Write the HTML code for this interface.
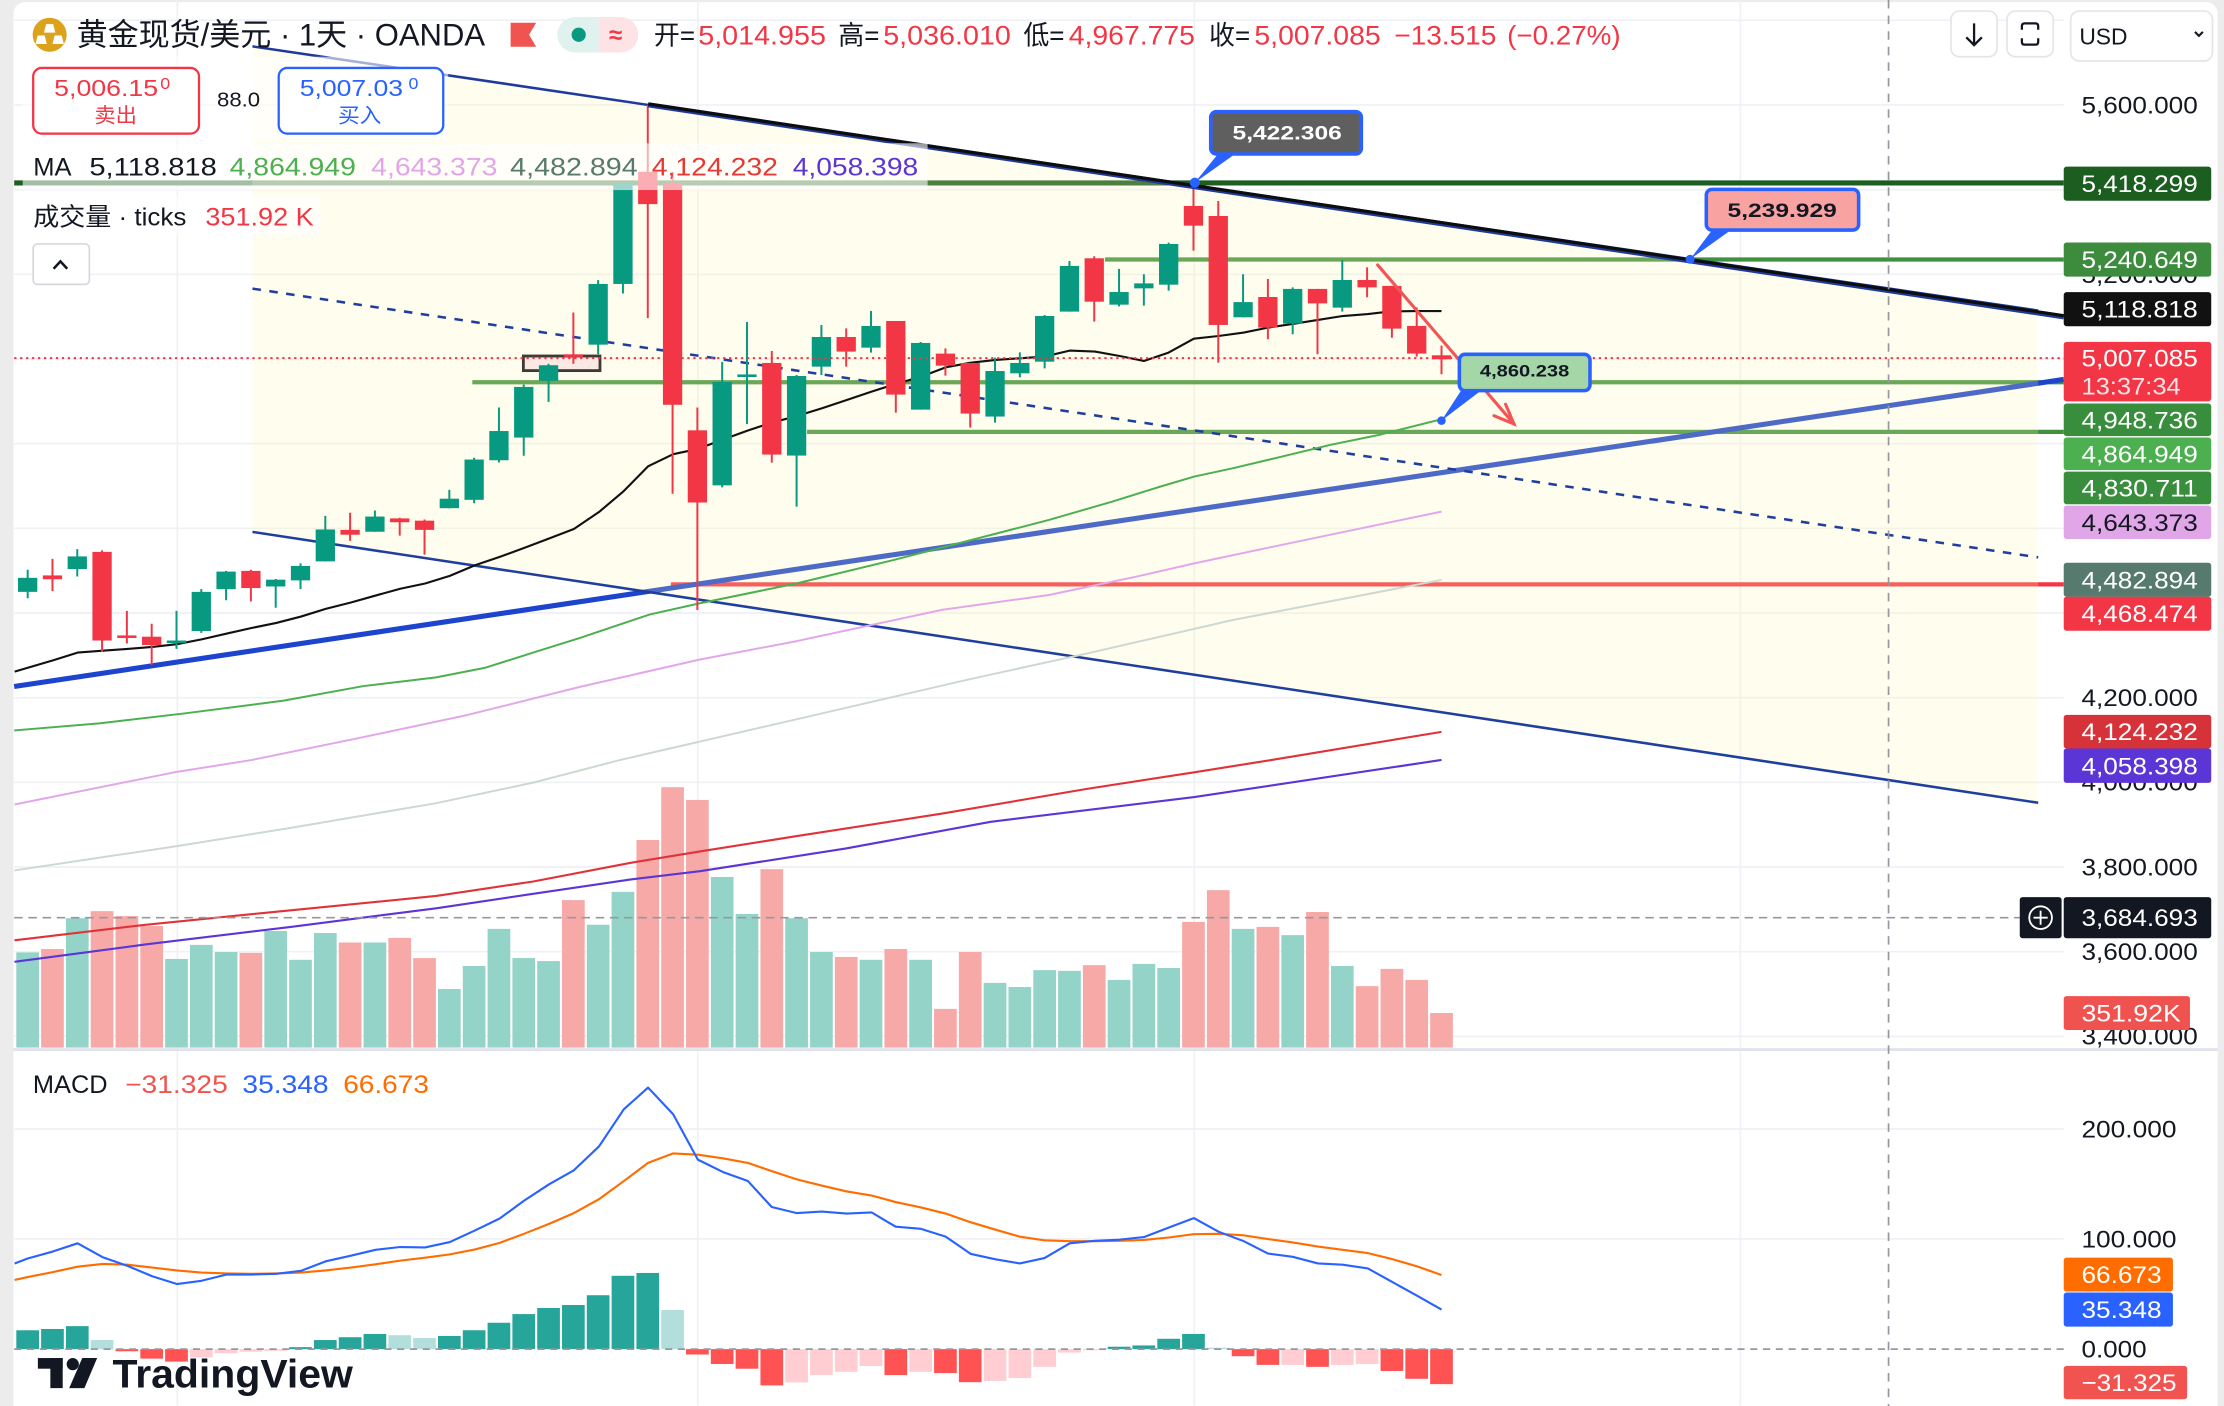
<!DOCTYPE html>
<html><head><meta charset="utf-8">
<style>
html,body{margin:0;padding:0;background:#ececec;}
body{width:2224px;height:1406px;overflow:hidden;}
svg{display:block;}
text{font-family:"Liberation Sans","Noto Sans CJK SC",sans-serif;}
</style></head>
<body>
<svg width="2224" height="1406" viewBox="0 0 1568 991.3" preserveAspectRatio="none" xmlns="http://www.w3.org/2000/svg">
<rect x="0" y="0" width="1568" height="991.3" fill="#ececec"/>
<rect x="9.5" y="1.5" width="1554" height="1000" rx="8" fill="#ffffff"/>

<!-- grid -->
<g stroke="#f0f1f4" stroke-width="1.2">
<line x1="10" x2="1455" y1="14.3" y2="14.3"/>
<line x1="10" x2="1455" y1="74" y2="74"/>
<line x1="10" x2="1455" y1="133.7" y2="133.7"/>
<line x1="10" x2="1455" y1="193.4" y2="193.4"/>
<line x1="10" x2="1455" y1="253" y2="253"/>
<line x1="10" x2="1455" y1="312.8" y2="312.8"/>
<line x1="10" x2="1455" y1="372.5" y2="372.5"/>
<line x1="10" x2="1455" y1="432.2" y2="432.2"/>
<line x1="10" x2="1455" y1="491.9" y2="491.9"/>
<line x1="10" x2="1455" y1="551.6" y2="551.6"/>
<line x1="10" x2="1455" y1="611.3" y2="611.3"/>
<line x1="10" x2="1455" y1="671" y2="671"/>
<line x1="10" x2="1455" y1="730.7" y2="730.7"/>
<line x1="10" x2="1455" y1="796" y2="796"/>
<line x1="10" x2="1455" y1="873.5" y2="873.5"/>
<line x1="125" x2="125" y1="0" y2="991"/>
<line x1="492" x2="492" y1="0" y2="991"/>
<line x1="842" x2="842" y1="0" y2="991"/>
<line x1="1227" x2="1227" y1="0" y2="991"/>
</g>

<!-- volume -->
<g fill="#93d3c8">
<rect x="11.5" y="671.5" width="16" height="67.1"/>
<rect x="46.48" y="647.4" width="16" height="91.2"/>
<rect x="116.43" y="676.1" width="16" height="62.5"/>
<rect x="133.92" y="666.2" width="16" height="72.4"/>
<rect x="151.4" y="671.2" width="16" height="67.4"/>
<rect x="186.38" y="656.4" width="16" height="82.2"/>
<rect x="203.87" y="676.7" width="16" height="61.9"/>
<rect x="221.36" y="657.8" width="16" height="80.8"/>
<rect x="256.33" y="664.5" width="16" height="74.1"/>
<rect x="308.8" y="697.3" width="16" height="41.3"/>
<rect x="326.28" y="681.1" width="16" height="57.5"/>
<rect x="343.77" y="654.9" width="16" height="83.7"/>
<rect x="361.26" y="675.5" width="16" height="63.1"/>
<rect x="378.75" y="677.6" width="16" height="61"/>
<rect x="413.72" y="652" width="16" height="86.6"/>
<rect x="431.21" y="628.8" width="16" height="109.8"/>
<rect x="501.16" y="618.3" width="16" height="120.3"/>
<rect x="518.65" y="644.4" width="16" height="94.2"/>
<rect x="553.63" y="647.4" width="16" height="91.2"/>
<rect x="571.12" y="671.2" width="16" height="67.4"/>
<rect x="606.09" y="676.7" width="16" height="61.9"/>
<rect x="641.07" y="676.7" width="16" height="61.9"/>
<rect x="693.53" y="693" width="16" height="45.6"/>
<rect x="711.02" y="695.9" width="16" height="42.7"/>
<rect x="728.51" y="684" width="16" height="54.6"/>
<rect x="746" y="684.5" width="16" height="54.1"/>
<rect x="780.97" y="690.9" width="16" height="47.7"/>
<rect x="798.46" y="679.6" width="16" height="59"/>
<rect x="815.95" y="682.5" width="16" height="56.1"/>
<rect x="868.41" y="654.9" width="16" height="83.7"/>
<rect x="903.39" y="659.3" width="16" height="79.3"/>
<rect x="938.36" y="681.1" width="16" height="57.5"/>
</g>
<g fill="#f6a9a7">
<rect x="28.99" y="669.1" width="16" height="69.5"/>
<rect x="63.96" y="642.4" width="16" height="96.2"/>
<rect x="81.45" y="645.9" width="16" height="92.7"/>
<rect x="98.94" y="652.9" width="16" height="85.7"/>
<rect x="168.89" y="671.8" width="16" height="66.8"/>
<rect x="238.84" y="664.5" width="16" height="74.1"/>
<rect x="273.82" y="661.3" width="16" height="77.3"/>
<rect x="291.31" y="675.5" width="16" height="63.1"/>
<rect x="396.24" y="634.6" width="16" height="104"/>
<rect x="448.7" y="592.2" width="16" height="146.4"/>
<rect x="466.19" y="555" width="16" height="183.6"/>
<rect x="483.68" y="564" width="16" height="174.6"/>
<rect x="536.14" y="612.8" width="16" height="125.8"/>
<rect x="588.6" y="674.7" width="16" height="63.9"/>
<rect x="623.58" y="669.1" width="16" height="69.5"/>
<rect x="658.56" y="711.3" width="16" height="27.3"/>
<rect x="676.04" y="671.2" width="16" height="67.4"/>
<rect x="763.48" y="680.5" width="16" height="58.1"/>
<rect x="833.44" y="650" width="16" height="88.6"/>
<rect x="850.92" y="627.6" width="16" height="111"/>
<rect x="885.9" y="653.5" width="16" height="85.1"/>
<rect x="920.88" y="643" width="16" height="95.6"/>
<rect x="955.85" y="695.3" width="16" height="43.3"/>
<rect x="973.34" y="683.1" width="16" height="55.5"/>
<rect x="990.83" y="690.9" width="16" height="47.7"/>
<rect x="1008.32" y="714.2" width="16" height="24.4"/>
</g>

<!-- horizontal levels & rising trendline (under channel fill) -->
<line x1="10" x2="1455" y1="129" y2="129" stroke="#1b5e20" stroke-width="3.6"/>
<line x1="779" x2="1455" y1="183" y2="183" stroke="#40913d" stroke-width="3"/>
<line x1="333" x2="1455" y1="269.5" y2="269.5" stroke="#40913d" stroke-width="3"/>
<line x1="569" x2="1455" y1="304.5" y2="304.5" stroke="#40913d" stroke-width="3"/>
<line x1="473" x2="1455" y1="412" y2="412" stroke="#f23645" stroke-width="3"/>
<line x1="10" y1="484" x2="1455" y2="267.5" stroke="#1c44cc" stroke-width="3.6"/>

<!-- channel fill -->
<polygon points="178,32.7 1437,219 1437,566 178,375" fill="#fff5b0" fill-opacity="0.22"/>

<!-- channel lines -->
<line x1="178" y1="32.7" x2="1437" y2="219" stroke="#1e3a9c" stroke-width="1.8"/>
<line x1="178" y1="375" x2="1437" y2="566" stroke="#1e3fa0" stroke-width="1.8"/>
<line x1="178" y1="203.5" x2="1437" y2="393" stroke="#1e3fa0" stroke-width="1.8" stroke-dasharray="6 6"/>

<!-- MAs -->
<g fill="none" stroke-linejoin="round">
<polyline stroke="#cdd8d1" stroke-width="1.4" points="10.2,613.7 123,596.8 205,583.7 307.5,566.3 375.9,551.8 437.4,535.8 560,507.5 681.4,479.4 766.9,460.6 869.4,437.1 1016.3,408.9"/>
<polyline stroke="#e2a7ea" stroke-width="1.4" points="10.2,567.2 123,544.5 177.7,535.8 250,521 330,504 410,484 493.5,465 561.8,452 664,430 739.5,419.5 801,406.6 842,397.2 903.5,384.2 1016.3,360.7"/>
<polyline stroke="#4caf50" stroke-width="1.4" points="10,515 70,510 130,503 200,494 256.3,483.7 307.5,477.6 341.7,470.9 375.9,460.1 410,449.4 457.9,433.3 493.5,425.3 561.8,411.3 630.2,394.8 698.5,377.2 739.5,366.6 784,353.7 818,343.1 842,336 869,330.2 903.5,322 937.7,313.7 971.9,306.7 1016.3,295.6"/>
<polyline stroke="#e03339" stroke-width="1.5" points="10.2,663 102.5,652 205,641.8 307.5,631.7 375.9,621.5 444.2,608.4 493.5,600.3 561.8,589.5 664.3,573.6 766.9,556.1 842,544.5 896.7,535.8 1016.3,516"/>
<polyline stroke="#5b35d5" stroke-width="1.5" points="10.2,678.1 102.5,665.9 205,653.5 307.5,640.4 375.9,630.2 444.2,620.1 493.5,614.2 596,598.3 698.5,579.4 842,562 1016.3,535.8"/>
<polyline stroke="#111111" stroke-width="1.5" points="10.3,473.5 37.6,465.5 54.7,460.1 72.4,458.8 89.9,457.5 107.3,456.1 124.7,454.2 142.1,450.8 159.9,446.7 177.7,442.7 194.8,439.2 212.2,434.7 229.6,429.3 247.4,424.8 264.8,419.9 282.2,415.1 299.7,411.4 317.1,406 334.9,398.5 352.3,392.6 369.4,386.4 387.1,379.7 404.6,373 422.3,361 439.8,346.2 456.9,328.8 474.6,320.2 492,316.5 509.6,310 527.3,303.5 544.1,298 561.8,293.3 579.3,287.9 597,282 614.5,276.1 631.5,270.7 649.3,265.6 666.7,259 684.5,255.7 701.9,253.8 719,252.6 736.4,251.4 754.2,247.2 772,247.9 789.4,251 806.5,254.5 823.9,248.6 841.7,238.8 859.1,236.9 876.9,234.5 894,231 911.4,228.4 929.2,225.6 946.6,222.8 964.4,221.4 981.1,219.5 998.9,219.3 1016.3,219.3"/>
</g>

<!-- drawing box -->
<rect x="369" y="251" width="54" height="10.3" fill="#fde9e4" stroke="#3f3a36" stroke-width="2"/>

<!-- candles green -->
<path stroke="#089981" stroke-width="1.4" fill="none" d="M19.5 401.7V421.8M54.48 387.2V406.5M124.43 430.7V457.5M141.92 415.4V446.2M159.4 402.5V423.2M194.38 408.2V428.5M211.87 397.2V415.4M229.36 363.7V395.8M264.33 359.9V374.9M316.8 345.4V358.3M334.28 322.7V354.8M351.77 287.3V326.1M369.26 271.2V321.3M386.75 256.5V283.3M421.72 197.5V249.8M439.21 129.2V206.9M509.16 255.1V343.6M526.65 227V299M561.63 264.4V357.2M579.12 229.1V264.4M614.09 219.3V248.6M649.07 241.1V288.8M701.53 252.1V298M719.02 248.4V266M736.51 222.1V259.7M754 184V219.7M788.97 189.6V216M806.46 193.4V215.5M823.95 171.1V204.9M876.41 193.4V223.7M911.39 202.6V235.7M946.36 183.3V219.7"/>
<g fill="#089981">
<rect x="12.7" y="407.4" width="13.6" height="9.9"/>
<rect x="47.68" y="392.3" width="13.6" height="8.9"/>
<rect x="117.63" y="451.6" width="13.6" height="1.8"/>
<rect x="135.12" y="417.3" width="13.6" height="27.6"/>
<rect x="152.6" y="403" width="13.6" height="12.4"/>
<rect x="187.58" y="408.7" width="13.6" height="4.8"/>
<rect x="205.07" y="399" width="13.6" height="10.2"/>
<rect x="222.56" y="373.3" width="13.6" height="22.5"/>
<rect x="257.53" y="364.2" width="13.6" height="10.7"/>
<rect x="310" y="351.6" width="13.6" height="6.7"/>
<rect x="327.48" y="324" width="13.6" height="28.4"/>
<rect x="344.97" y="303.9" width="13.6" height="20.6"/>
<rect x="362.46" y="272.8" width="13.6" height="35.7"/>
<rect x="379.95" y="257.5" width="13.6" height="11"/>
<rect x="414.92" y="200.2" width="13.6" height="42.8"/>
<rect x="432.41" y="129.2" width="13.6" height="71"/>
<rect x="502.36" y="269.3" width="13.6" height="72.9"/>
<rect x="519.85" y="264" width="13.6" height="1.8"/>
<rect x="554.83" y="265.1" width="13.6" height="56.1"/>
<rect x="572.32" y="237.6" width="13.6" height="20.9"/>
<rect x="607.29" y="229.8" width="13.6" height="15.3"/>
<rect x="642.27" y="241.8" width="13.6" height="47"/>
<rect x="694.73" y="261.6" width="13.6" height="32.1"/>
<rect x="712.22" y="255.9" width="13.6" height="7.3"/>
<rect x="729.71" y="222.8" width="13.6" height="32.2"/>
<rect x="747.2" y="187.5" width="13.6" height="32.2"/>
<rect x="782.17" y="205.9" width="13.6" height="8.9"/>
<rect x="799.66" y="199.8" width="13.6" height="3.5"/>
<rect x="817.15" y="172" width="13.6" height="28.7"/>
<rect x="869.61" y="213" width="13.6" height="10.7"/>
<rect x="904.59" y="203.7" width="13.6" height="24.5"/>
<rect x="939.56" y="197.4" width="13.6" height="19.5"/>
</g>
<!-- candles red -->
<path stroke="#f23645" stroke-width="1.4" fill="none" d="M36.99 394V416.7M71.96 388V459.6M89.45 430.7V453.7M106.94 439.8V468.7M176.89 401.7V424M246.84 361.5V381.3M281.82 365V377.6M299.31 366.3V391M404.24 220.3V256.5M456.7 74V224.3M474.19 121.1V348.1M491.68 287.3V430.1M544.14 247.5V326.2M596.6 231.5V258.5M631.58 226.3V290.9M666.56 245.6V264.8M684.04 255.9V301.5M771.48 180.7V226.8M841.44 128V176.7M858.92 141.7V255.7M893.9 196.7V239.2M928.88 203.7V249.8M963.85 188.5V209.6M981.34 201.6V238.1M998.83 216.7V251.4M1016.32 243.7V263.9"/>
<g fill="#f23645">
<rect x="30.19" y="405.7" width="13.6" height="2.7"/>
<rect x="65.16" y="389.1" width="13.6" height="62.5"/>
<rect x="82.65" y="448" width="13.6" height="1.8"/>
<rect x="100.14" y="448.9" width="13.6" height="5.9"/>
<rect x="170.09" y="402.5" width="13.6" height="12.1"/>
<rect x="240.04" y="373.6" width="13.6" height="3.4"/>
<rect x="275.02" y="365.5" width="13.6" height="2.7"/>
<rect x="292.51" y="367.1" width="13.6" height="6.5"/>
<rect x="397.44" y="249.8" width="13.6" height="1.8"/>
<rect x="449.9" y="121.1" width="13.6" height="22.8"/>
<rect x="467.39" y="129.2" width="13.6" height="156.2"/>
<rect x="484.88" y="303.4" width="13.6" height="50.9"/>
<rect x="537.34" y="255.9" width="13.6" height="64.6"/>
<rect x="589.8" y="237.6" width="13.6" height="10.3"/>
<rect x="624.78" y="226.3" width="13.6" height="51.9"/>
<rect x="659.76" y="249.3" width="13.6" height="8.5"/>
<rect x="677.24" y="255.9" width="13.6" height="35.7"/>
<rect x="764.68" y="182.1" width="13.6" height="30.6"/>
<rect x="834.64" y="145.2" width="13.6" height="13.9"/>
<rect x="852.12" y="152.3" width="13.6" height="76.8"/>
<rect x="887.1" y="209.4" width="13.6" height="21.6"/>
<rect x="922.08" y="203.7" width="13.6" height="10.2"/>
<rect x="957.05" y="197.4" width="13.6" height="5.2"/>
<rect x="974.54" y="201.6" width="13.6" height="30.1"/>
<rect x="992.03" y="229.8" width="13.6" height="19.5"/>
<rect x="1009.52" y="250.5" width="13.6" height="2.8"/>
</g>

<!-- thick black trendline -->
<line x1="457" y1="73.9" x2="1455" y2="223.4" stroke="#1e3a9c" stroke-width="3.6"/>
<line x1="457" y1="73.3" x2="1455" y2="222.6" stroke="#0d0d0d" stroke-width="2.2"/>

<!-- current price dotted -->
<line x1="10" x2="1455" y1="252.5" y2="252.5" stroke="#f23645" stroke-width="1.4" stroke-dasharray="1.6 2.6"/>

<!-- red arrow -->
<g stroke="#f25555" stroke-width="2.2" stroke-linecap="round" fill="none">
<line x1="971.3" y1="186.8" x2="1067.4" y2="298.9"/>
<polyline points="1053.3,293.1 1067.4,298.9 1061.5,285"/>
</g>

<!-- callouts -->
<polygon points="860,107 873,107 842.4,128.8" fill="#2962ff"/>
<circle cx="842.4" cy="128.8" r="3.6" fill="#2962ff"/>
<rect x="853.6" y="78.7" width="106.2" height="29.9" rx="4" fill="#5f5f5f" stroke="#2962ff" stroke-width="2.5"/>
<text x="869" y="98.3" font-size="13.5" font-weight="bold" fill="#ffffff" textLength="77" lengthAdjust="spacingAndGlyphs">5,422.306</text>

<polygon points="1208,161 1222,161 1191.6,182.8" fill="#2962ff"/>
<circle cx="1191.6" cy="182.8" r="3.2" fill="#2962ff"/>
<rect x="1203" y="133.5" width="107.4" height="28.7" rx="4" fill="#f8a2a2" stroke="#2962ff" stroke-width="2.5"/>
<text x="1218" y="153" font-size="13.5" font-weight="bold" fill="#131722" textLength="77" lengthAdjust="spacingAndGlyphs">5,239.929</text>

<polygon points="1031,274 1046,274 1016.3,296.6" fill="#2962ff"/>
<circle cx="1016.3" cy="296.6" r="3" fill="#2962ff"/>
<rect x="1028.9" y="249.8" width="92.1" height="25.6" rx="4" fill="#a5d6a7" stroke="#2962ff" stroke-width="2.5"/>
<text x="1043.4" y="265.6" font-size="12" font-weight="bold" fill="#131722" textLength="63" lengthAdjust="spacingAndGlyphs">4,860.238</text>

<!-- legend overlays -->
<rect x="16" y="40" width="300" height="60" fill="#ffffff" fill-opacity="0.6"/>
<rect x="16" y="101" width="638" height="33" fill="#ffffff" fill-opacity="0.6"/>
<rect x="16" y="138" width="210" height="28" fill="#ffffff" fill-opacity="0.6"/>

<!-- header -->
<circle cx="35" cy="24.5" r="12" fill="#dca21b"/>
<g fill="#ffffff">
<polygon points="32.5,17 37.5,17 39,23 31,23"/>
<polygon points="26.5,25 31.5,25 33,31 25,31"/>
<polygon points="38.5,25 43.5,25 45,31 37,31"/>
</g>
<text x="54" y="32" font-size="22" fill="#131722" textLength="288" lengthAdjust="spacingAndGlyphs">黄金现货/美元 · 1天 · OANDA</text>
<path d="M360 16H378L373 24.5L378 33H360Z" fill="#f05350"/>
<rect x="393" y="12" width="57" height="25" rx="12.5" fill="#fde2e6"/>
<rect x="393" y="12" width="30" height="25" rx="12.5" fill="#dff2ee"/>
<rect x="408" y="12" width="14" height="25" fill="#dff2ee"/>
<circle cx="408" cy="24.5" r="5" fill="#089981"/>
<text x="434" y="30.5" font-size="17" font-weight="bold" fill="#f23645" text-anchor="middle">≈</text>

<g font-size="19">
<text x="461" y="31.5" fill="#131722" textLength="29" lengthAdjust="spacingAndGlyphs">开=</text>
<text x="492.3" y="31.5" fill="#f23645" textLength="90" lengthAdjust="spacingAndGlyphs">5,014.955</text>
<text x="591" y="31.5" fill="#131722" textLength="29" lengthAdjust="spacingAndGlyphs">高=</text>
<text x="622.7" y="31.5" fill="#f23645" textLength="90" lengthAdjust="spacingAndGlyphs">5,036.010</text>
<text x="721.5" y="31.5" fill="#131722" textLength="29" lengthAdjust="spacingAndGlyphs">低=</text>
<text x="753.5" y="31.5" fill="#f23645" textLength="89" lengthAdjust="spacingAndGlyphs">4,967.775</text>
<text x="852.4" y="31.5" fill="#131722" textLength="29" lengthAdjust="spacingAndGlyphs">收=</text>
<text x="884.4" y="31.5" fill="#f23645" textLength="89" lengthAdjust="spacingAndGlyphs">5,007.085</text>
<text x="983" y="31.5" fill="#f23645" textLength="72" lengthAdjust="spacingAndGlyphs">−13.515</text>
<text x="1062.6" y="31.5" fill="#f23645" textLength="80" lengthAdjust="spacingAndGlyphs">(−0.27%)</text>
</g>

<!-- sell/buy -->
<rect x="23.4" y="47.9" width="116.9" height="46.3" rx="6" fill="#ffffff" stroke="#f23645" stroke-width="1.6"/>
<text x="38.2" y="67.8" font-size="16.5" fill="#f23645" textLength="73.3" lengthAdjust="spacingAndGlyphs">5,006.15</text>
<text x="113" y="62.6" font-size="11" fill="#f23645" textLength="7" lengthAdjust="spacingAndGlyphs">0</text>
<text x="66.5" y="86.5" font-size="14.5" fill="#f23645" textLength="30" lengthAdjust="spacingAndGlyphs">卖出</text>
<text x="153" y="75.2" font-size="14.5" fill="#131722" textLength="30.4" lengthAdjust="spacingAndGlyphs">88.0</text>
<rect x="196.5" y="47.9" width="116" height="46.3" rx="6" fill="#ffffff" stroke="#2962ff" stroke-width="1.6"/>
<text x="211.3" y="67.8" font-size="16.5" fill="#2962ff" textLength="72.9" lengthAdjust="spacingAndGlyphs">5,007.03</text>
<text x="288" y="62.6" font-size="11" fill="#2962ff" textLength="7" lengthAdjust="spacingAndGlyphs">0</text>
<text x="238.3" y="86.5" font-size="14.5" fill="#2962ff" textLength="30.6" lengthAdjust="spacingAndGlyphs">买入</text>

<!-- MA legend -->
<g font-size="17.5">
<text x="23.4" y="123.8" fill="#131722" textLength="27" lengthAdjust="spacingAndGlyphs">MA</text>
<text x="63" y="123.8" fill="#131722" textLength="89.9" lengthAdjust="spacingAndGlyphs">5,118.818</text>
<text x="161.9" y="123.8" fill="#4caf50" textLength="89" lengthAdjust="spacingAndGlyphs">4,864.949</text>
<text x="261.7" y="123.8" fill="#e1a6e8" textLength="89" lengthAdjust="spacingAndGlyphs">4,643.373</text>
<text x="359.7" y="123.8" fill="#577a6e" textLength="89.9" lengthAdjust="spacingAndGlyphs">4,482.894</text>
<text x="459.5" y="123.8" fill="#e53935" textLength="89" lengthAdjust="spacingAndGlyphs">4,124.232</text>
<text x="558.9" y="123.8" fill="#5b35d5" textLength="88.5" lengthAdjust="spacingAndGlyphs">4,058.398</text>
<text x="23.4" y="159" fill="#131722" textLength="108" lengthAdjust="spacingAndGlyphs">成交量 · ticks</text>
<text x="144.8" y="159" fill="#f23645" textLength="76.4" lengthAdjust="spacingAndGlyphs">351.92 K</text>
</g>
<rect x="23.4" y="172" width="39.6" height="28.5" rx="3" fill="#ffffff" stroke="#d6d8de" stroke-width="1.2"/>
<polyline points="37.8,189.5 42.6,184.3 47.4,189.5" fill="none" stroke="#131722" stroke-width="1.8"/>

<!-- pane separator -->
<rect x="9.5" y="739" width="1554" height="2" fill="#e0e3eb"/>

<!-- MACD histogram -->
<g fill="#26a69a">
<rect x="11.5" y="937.9" width="16" height="13.3"/>
<rect x="28.99" y="937" width="16" height="14.2"/>
<rect x="46.48" y="935" width="16" height="16.2"/>
<rect x="203.87" y="949.8" width="16" height="1.4"/>
<rect x="221.36" y="944.8" width="16" height="6.4"/>
<rect x="238.84" y="942.8" width="16" height="8.4"/>
<rect x="256.33" y="940.5" width="16" height="10.7"/>
<rect x="308.8" y="941.9" width="16" height="9.3"/>
<rect x="326.28" y="937.9" width="16" height="13.3"/>
<rect x="343.77" y="932.6" width="16" height="18.6"/>
<rect x="361.26" y="926.5" width="16" height="24.7"/>
<rect x="378.75" y="922.2" width="16" height="29"/>
<rect x="396.24" y="920.1" width="16" height="31.1"/>
<rect x="413.72" y="913.2" width="16" height="38"/>
<rect x="431.21" y="899.5" width="16" height="51.7"/>
<rect x="448.7" y="897.5" width="16" height="53.7"/>
<rect x="780.97" y="949.5" width="16" height="1.7"/>
<rect x="798.46" y="948.6" width="16" height="2.6"/>
<rect x="815.95" y="943.9" width="16" height="7.3"/>
<rect x="833.44" y="940.5" width="16" height="10.7"/>
</g>
<g fill="#b2dfdb">
<rect x="63.96" y="944.8" width="16" height="6.4"/>
<rect x="273.82" y="941.4" width="16" height="9.8"/>
<rect x="291.31" y="943.4" width="16" height="7.8"/>
<rect x="466.19" y="923.6" width="16" height="27.6"/>
<rect x="850.92" y="950.2" width="16" height="1"/>
</g>
<g fill="#ff5252">
<rect x="81.45" y="951.2" width="16" height="1.5"/>
<rect x="98.94" y="951.2" width="16" height="6.7"/>
<rect x="116.43" y="951.2" width="16" height="8.8"/>
<rect x="483.68" y="951.2" width="16" height="3.8"/>
<rect x="501.16" y="951.2" width="16" height="10.5"/>
<rect x="518.65" y="951.2" width="16" height="13.8"/>
<rect x="536.14" y="951.2" width="16" height="25.6"/>
<rect x="623.58" y="951.2" width="16" height="18.3"/>
<rect x="658.56" y="951.2" width="16" height="16.9"/>
<rect x="676.04" y="951.2" width="16" height="23.3"/>
<rect x="868.41" y="951.2" width="16" height="5"/>
<rect x="885.9" y="951.2" width="16" height="11.1"/>
<rect x="920.88" y="951.2" width="16" height="12.5"/>
<rect x="973.34" y="951.2" width="16" height="15.4"/>
<rect x="990.83" y="951.2" width="16" height="20.9"/>
<rect x="1008.32" y="951.2" width="16" height="24.7"/>
</g>
<g fill="#ffcdd2">
<rect x="133.92" y="951.2" width="16" height="5.8"/>
<rect x="151.4" y="951.2" width="16" height="2.9"/>
<rect x="168.89" y="951.2" width="16" height="1.8"/>
<rect x="186.38" y="951.2" width="16" height="1.2"/>
<rect x="553.63" y="951.2" width="16" height="23.5"/>
<rect x="571.12" y="951.2" width="16" height="18.3"/>
<rect x="588.6" y="951.2" width="16" height="16"/>
<rect x="606.09" y="951.2" width="16" height="11.9"/>
<rect x="641.07" y="951.2" width="16" height="16"/>
<rect x="693.53" y="951.2" width="16" height="22.4"/>
<rect x="711.02" y="951.2" width="16" height="20.4"/>
<rect x="728.51" y="951.2" width="16" height="12.5"/>
<rect x="746" y="951.2" width="16" height="2.4"/>
<rect x="763.48" y="951.2" width="16" height="0.8"/>
<rect x="903.39" y="951.2" width="16" height="11.1"/>
<rect x="938.36" y="951.2" width="16" height="11.1"/>
<rect x="955.85" y="951.2" width="16" height="10.5"/>
</g>
<line x1="10" x2="1455" y1="951.2" y2="951.2" stroke="#9598a1" stroke-width="1.2" stroke-dasharray="5 4"/>

<!-- MACD lines -->
<g fill="none" stroke-linejoin="round" stroke-width="1.5">
<polyline stroke="#ff6d00" points="10.3,902.4 19.5,900.4 37.2,896.9 54.7,893.1 72.4,891.1 89.9,891.7 107.3,893.7 124.7,895.7 142.1,897.2 159.9,897.8 177.7,898.1 194.8,897.8 212.2,897.2 229.6,895.7 247.4,893.7 264.8,891.4 282.2,888.8 299.7,886.7 317.1,884.4 334.9,880.9 352.3,876.3 369.4,869.9 387.1,862.9 404.6,855.3 422.3,845.5 439.8,832.7 456.9,819.9 474.6,813.2 492,814.1 509.6,816.7 527.3,819.9 544.1,825.7 561.8,831.5 579.3,835.9 597,840 614.5,842.9 631.5,847.5 649.3,851.3 666.7,855.6 684.5,861.8 701.9,867 719,871.9 736.4,874.5 754.2,875.1 772,875.1 789.4,874.8 806.5,874.2 823.9,872.5 841.7,870.2 859.1,869.9 876.9,871 894,873.6 911.4,876 929.2,878.9 946.6,881.2 964.4,883.5 981.1,887.6 998.9,892.8 1016.3,898.9"/>
<polyline stroke="#2962ff" points="10.3,890.8 19.5,887.3 37.2,882.4 54.7,876.6 72.4,886.4 89.9,892.5 107.3,899.8 124.7,905.3 142.1,903 159.9,898.6 177.7,898.6 194.8,898.1 212.2,896 229.6,889.3 247.4,885.3 264.8,881.2 282.2,879.2 299.7,879.5 317.1,875.7 334.9,867.5 352.3,859.1 369.4,846.6 387.1,835 404.6,825.1 422.3,808.3 439.8,782.1 456.9,766.8 474.6,785.6 492,817.6 509.6,826.3 527.3,832.7 544.1,851 561.8,855.3 579.3,854.2 597,855.6 614.5,854.8 631.5,864.9 649.3,866.4 666.7,871.9 684.5,884.1 701.9,887.9 719,890.8 736.4,887 754.2,876.6 772,874.8 789.4,874 806.5,872.2 823.9,865.5 841.7,858.8 859.1,868.4 876.9,875.1 894,883.8 911.4,886.1 929.2,890.8 946.6,891.7 964.4,894.3 981.1,903.6 998.9,913.4 1016.3,923.3"/>
</g>

<!-- MACD legend -->
<g font-size="17.5">
<text x="23.2" y="770.5" fill="#131722" textLength="52.7" lengthAdjust="spacingAndGlyphs">MACD</text>
<text x="88.2" y="770.5" fill="#f05350" textLength="72.4" lengthAdjust="spacingAndGlyphs">−31.325</text>
<text x="170.9" y="770.5" fill="#2962ff" textLength="60.8" lengthAdjust="spacingAndGlyphs">35.348</text>
<text x="242" y="770.5" fill="#ff6d00" textLength="60.4" lengthAdjust="spacingAndGlyphs">66.673</text>
</g>

<!-- TradingView logo -->
<g fill="#131722">
<rect x="26.7" y="957.5" width="17.5" height="7.5"/>
<rect x="35.5" y="957.5" width="8.7" height="21.2"/>
<circle cx="51.3" cy="961.8" r="4.3"/>
<polygon points="58,957.5 68.5,957.5 59.5,978.7 48.8,978.7"/>
</g>
<text x="79.3" y="978.2" font-size="28" font-weight="bold" fill="#131722" textLength="169.5" lengthAdjust="spacingAndGlyphs">TradingView</text>

<!-- crosshair -->
<line x1="1331.5" x2="1331.5" y1="0" y2="991.3" stroke="#9598a1" stroke-width="1.2" stroke-dasharray="6 5"/>
<line x1="10" x2="1424" y1="647" y2="647" stroke="#9598a1" stroke-width="1.2" stroke-dasharray="6 4"/>

<!-- top right buttons -->
<rect x="1375.5" y="7.8" width="32.5" height="32.2" rx="6" fill="#ffffff" stroke="#e3e5ea" stroke-width="1.2"/>
<path d="M1391.8 16.5V31.5M1386.3 26.3L1391.8 31.8L1397.3 26.3" fill="none" stroke="#131722" stroke-width="1.6"/>
<rect x="1415" y="7.8" width="32.6" height="32.2" rx="6" fill="#ffffff" stroke="#e3e5ea" stroke-width="1.2"/>
<path d="M1425.5 21V18.5Q1425.5 16.5 1427.5 16.5H1435Q1437 16.5 1437 18.5V21M1425.5 27V29.5Q1425.5 31.5 1427.5 31.5H1435Q1437 31.5 1437 29.5V27" fill="none" stroke="#131722" stroke-width="1.6"/>
<rect x="1459.9" y="7.8" width="100" height="35.2" rx="6" fill="#ffffff" stroke="#e3e5ea" stroke-width="1.2"/>
<text x="1466" y="31.3" font-size="16" fill="#131722" textLength="34" lengthAdjust="spacingAndGlyphs">USD</text>
<polyline points="1547.5,22.5 1550.3,25.3 1553.1,22.5" fill="none" stroke="#131722" stroke-width="1.5"/>

<!-- axis labels -->
<g font-size="17" fill="#131722">
<text x="1467.5" y="80.2" textLength="82" lengthAdjust="spacingAndGlyphs">5,600.000</text>
<text x="1467.5" y="199.6" textLength="82" lengthAdjust="spacingAndGlyphs">5,200.000</text>
<text x="1467.5" y="497.7" textLength="82" lengthAdjust="spacingAndGlyphs">4,200.000</text>
<text x="1467.5" y="557.5" textLength="82" lengthAdjust="spacingAndGlyphs">4,000.000</text>
<text x="1467.5" y="617.2" textLength="82" lengthAdjust="spacingAndGlyphs">3,800.000</text>
<text x="1467.5" y="676.9" textLength="82" lengthAdjust="spacingAndGlyphs">3,600.000</text>
<text x="1467.5" y="736.6" textLength="82" lengthAdjust="spacingAndGlyphs">3,400.000</text>
<text x="1467.5" y="802" textLength="67" lengthAdjust="spacingAndGlyphs">200.000</text>
<text x="1467.5" y="879.5" textLength="67" lengthAdjust="spacingAndGlyphs">100.000</text>
<text x="1467.5" y="957" textLength="46" lengthAdjust="spacingAndGlyphs">0.000</text>
</g>

<!-- price tags -->
<g>
<rect x="1455" y="117.5" width="104" height="24" rx="2" fill="#1b5e20"/>
<rect x="1455" y="171" width="104" height="24" rx="2" fill="#3d8b3d"/>
<rect x="1455" y="206" width="104" height="24" rx="2" fill="#111111"/>
<rect x="1455" y="241" width="104" height="42" rx="2" fill="#f23645"/>
<rect x="1455" y="284.5" width="104" height="23" rx="2" fill="#388e3c"/>
<rect x="1455" y="308.5" width="104" height="23" rx="2" fill="#4caf50"/>
<rect x="1455" y="332.5" width="104" height="23" rx="2" fill="#388e3c"/>
<rect x="1455" y="356.5" width="104" height="23.5" rx="2" fill="#e1a6e8"/>
<rect x="1455" y="396.8" width="104" height="24" rx="2" fill="#577a6e"/>
<rect x="1455" y="420.7" width="104" height="24" rx="2" fill="#f23645"/>
<rect x="1455" y="504" width="104" height="23.7" rx="2" fill="#d6323a"/>
<rect x="1455" y="527.7" width="104" height="24.3" rx="2" fill="#5b35d5"/>
<rect x="1424" y="632.5" width="29.5" height="29" rx="2" fill="#131722"/>
<rect x="1455" y="632.5" width="104" height="29" rx="2" fill="#131722"/>
<rect x="1455" y="702.3" width="89" height="23.9" rx="2" fill="#f0524f"/>
<rect x="1455" y="886.7" width="77" height="23.9" rx="2" fill="#ff6d00"/>
<rect x="1455" y="911.3" width="77" height="24" rx="2" fill="#2962ff"/>
<rect x="1455" y="963" width="87" height="23.5" rx="2" fill="#f05350"/>
</g>
<circle cx="1438.7" cy="647" r="8" fill="none" stroke="#ffffff" stroke-width="1.3"/>
<path d="M1438.7 642V652M1433.7 647H1443.7" stroke="#ffffff" stroke-width="1.3"/>
<g font-size="17" fill="#ffffff">
<text x="1467.5" y="135.5" textLength="82" lengthAdjust="spacingAndGlyphs">5,418.299</text>
<text x="1467.5" y="189" textLength="82" lengthAdjust="spacingAndGlyphs">5,240.649</text>
<text x="1467.5" y="224" textLength="82" lengthAdjust="spacingAndGlyphs">5,118.818</text>
<text x="1467.5" y="258.5" textLength="82" lengthAdjust="spacingAndGlyphs">5,007.085</text>
<text x="1467.5" y="278.3" textLength="70" lengthAdjust="spacingAndGlyphs" fill-opacity="0.85">13:37:34</text>
<text x="1467.5" y="302" textLength="82" lengthAdjust="spacingAndGlyphs">4,948.736</text>
<text x="1467.5" y="326" textLength="82" lengthAdjust="spacingAndGlyphs">4,864.949</text>
<text x="1467.5" y="350" textLength="82" lengthAdjust="spacingAndGlyphs">4,830.711</text>
<text x="1467.5" y="374.3" textLength="82" lengthAdjust="spacingAndGlyphs" fill="#131722">4,643.373</text>
<text x="1467.5" y="414.8" textLength="82" lengthAdjust="spacingAndGlyphs">4,482.894</text>
<text x="1467.5" y="438.7" textLength="82" lengthAdjust="spacingAndGlyphs">4,468.474</text>
<text x="1467.5" y="521.9" textLength="82" lengthAdjust="spacingAndGlyphs">4,124.232</text>
<text x="1467.5" y="545.9" textLength="82" lengthAdjust="spacingAndGlyphs">4,058.398</text>
<text x="1467.5" y="653" textLength="82" lengthAdjust="spacingAndGlyphs">3,684.693</text>
<text x="1467.5" y="720.3" textLength="70" lengthAdjust="spacingAndGlyphs">351.92K</text>
<text x="1467.5" y="904.7" textLength="56.5" lengthAdjust="spacingAndGlyphs">66.673</text>
<text x="1467.5" y="929.3" textLength="56.5" lengthAdjust="spacingAndGlyphs">35.348</text>
<text x="1467.5" y="980.8" textLength="67" lengthAdjust="spacingAndGlyphs">−31.325</text>
</g>
</svg>
</body></html>
